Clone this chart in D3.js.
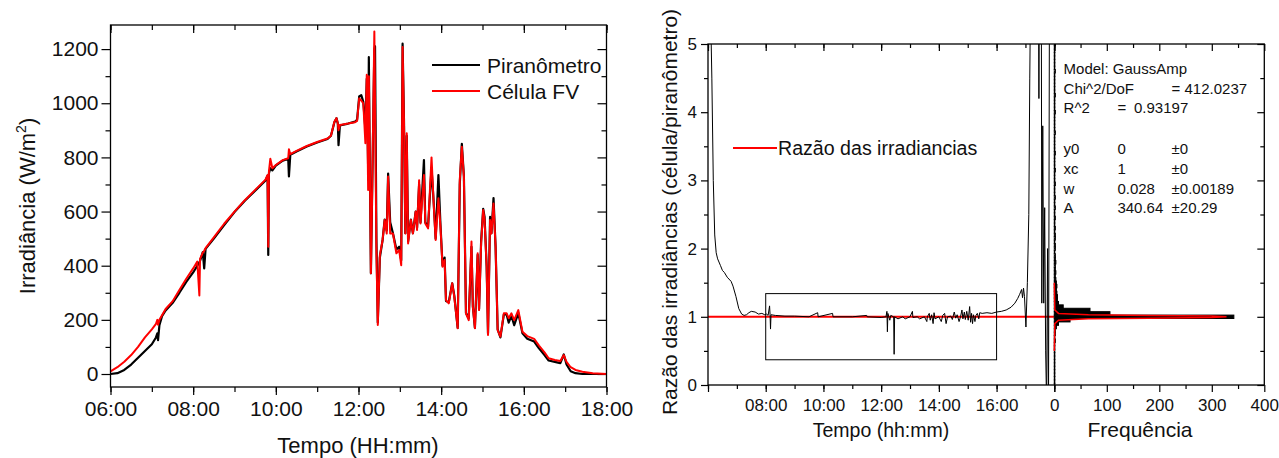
<!DOCTYPE html>
<html>
<head>
<meta charset="UTF-8">
<script src="https://d3js.org/d3.v7.min.js"></script>
<style>
  body { margin: 0; background: #fff; }
  svg text { font-family: "Liberation Sans", Arial, sans-serif; fill: #111; }
</style>
</head>
<body>
<div id="chart"></div>
<script>
// ---- left panel: irradiance over the day
var hora = ["06:00","06:10","06:20","06:30","06:40","06:50","07:00","07:06","07:08","07:09",
  "07:11","07:15","07:20","07:30","07:40","07:50","08:00","08:06","08:09","08:10",
  "08:14","08:16","08:18","08:30","08:45","09:00","09:15","09:30","09:45","09:48",
  "09:49","09:50","09:52","09:55","10:00","10:10","10:18","10:19","10:21","10:30",
  "10:45","11:00","11:15","11:20","11:25","11:28","11:30","11:31","11:33","11:45",
  "11:55","11:58","12:01","12:04","12:07","12:10","12:12","12:14","12:15","12:16",
  "12:18","12:20","12:23","12:24","12:26","12:28","12:31","12:35","12:38","12:41",
  "12:43","12:46","12:50","12:55","12:59","13:02","13:04","13:06","13:08","13:10",
  "13:12","13:16","13:19","13:23","13:25","13:28","13:30","13:35","13:37","13:41",
  "13:46","13:49","13:52","13:56","13:59","14:02","14:05","14:07","14:11","14:16",
  "14:19","14:24","14:27","14:30","14:33","14:36","14:40","14:44","14:46","14:49",
  "14:53","14:55","14:58","15:01","15:03","15:06","15:08","15:11","15:13","15:16",
  "15:19","15:22","15:26","15:31","15:35","15:38","15:42","15:46","15:52","15:58",
  "16:05","16:15","16:22","16:30","16:36","16:45","16:53","16:58","17:02","17:08",
  "17:15","17:25","17:40","18:00"];
var piranometro = [0,3,15,35,60,85,110,135,150,125,
  180,215,235,262,300,340,375,400,412,418,
  450,390,462,500,550,598,640,677,715,732,
  440,742,760,752,770,788,795,730,810,822,
  840,855,868,880,930,945,925,845,918,925,
  932,940,1025,1030,1005,905,1090,760,1170,880,
  372,700,1200,1210,500,190,430,495,570,530,
  740,560,520,460,470,420,1220,940,520,880,
  490,570,520,600,540,700,560,790,560,545,
  760,640,500,735,550,400,430,270,265,335,
  290,170,700,850,730,225,205,470,250,170,
  440,240,490,610,580,400,150,580,520,650,
  470,165,135,220,220,190,215,180,225,150,
  130,120,95,70,50,45,40,72,35,10,
  3,0,0,0];
var celula = [10,25,45,70,100,135,165,185,200,182,
  200,218,240,268,310,352,390,415,290,425,
  448,455,465,505,555,600,642,680,718,735,
  470,748,795,760,772,790,797,830,812,824,
  842,857,870,880,932,945,925,900,920,925,
  930,935,1018,1010,1000,852,1105,680,1100,900,
  372,700,1265,1000,450,181,439,495,569,519,
  729,519,519,446,458,402,1208,938,519,889,
  482,569,519,600,532,716,556,735,556,538,
  800,636,495,649,544,396,421,273,261,335,
  286,169,716,839,729,224,199,489,249,169,
  446,236,482,606,569,396,144,569,519,630,
  470,162,138,224,224,206,224,199,236,156,
  140,130,105,80,58,52,48,70,45,25,
  15,8,3,0];
var ticksHoraEsq = ["06:00","08:00","10:00","12:00","14:00","16:00","18:00"];
var ticksIrrad = [0,200,400,600,800,1000,1200];

// ---- right panel: cell/pyranometer ratio
var horaRazao = ["06:04","06:08","06:11","06:14","06:17","06:20","06:26","06:30","06:34","06:40",
  "06:48","06:52","06:58","07:04","07:10","07:15","07:20","07:25","07:30","07:38",
  "07:45","07:52","07:58","08:02","08:05","08:08","08:09","08:10","08:11","08:20",
  "08:40","09:00","09:30","09:48","09:49","10:19","10:20","11:00","11:30","11:31",
  "12:00","12:10","12:12","12:13","12:14","12:18","12:20","12:26","12:27","12:28",
  "12:35","12:45","12:50","13:00","13:05","13:06","13:15","13:20","13:30","13:35",
  "13:36","13:40","13:42","13:45","13:48","13:50","13:52","14:00","14:05","14:08",
  "14:12","14:15","14:18","14:25","14:28","14:32","14:35","14:38","14:42","14:45",
  "14:48","14:50","14:53","14:55","14:58","15:01","15:04","15:06","15:08","15:10",
  "15:12","15:15","15:17","15:20","15:23","15:25","15:30","15:40","15:50","16:00",
  "16:10","16:20","16:30","16:38","16:44","16:48","16:52","16:54","16:56","16:58",
  "17:01","17:04","17:07","17:09","17:11","17:27","17:28","17:29","17:33","17:34",
  "17:36","17:38","17:40","17:42","17:44","17:46","17:48","17:50"];
var razao = [6,4.5,3,2.2,1.94,1.85,1.75,1.68,1.65,1.58,
  1.52,1.45,1.3,1.12,1.04,1.02,1.03,1.06,1.08,1.07,
  1.04,1.05,1.03,1.04,1.02,1.16,1.04,0.82,1.03,1.02,
  1.01,1.01,1.0,1.06,1.0,1.05,1.0,1.0,1.02,1.0,
  0.99,1.0,1.08,0.78,1.05,0.95,1.02,1.0,0.45,1.0,
  0.97,1.0,0.97,1.0,1.08,0.99,1.0,0.97,1.0,0.93,
  1.0,1.05,0.95,1.03,0.9,1.06,0.97,1.0,0.93,1.02,
  1.05,0.9,1.0,1.01,0.96,1.07,0.98,1.03,0.93,1.0,
  1.1,0.97,1.07,0.96,1.08,0.95,1.15,0.92,1.05,0.9,
  1.03,0.93,1.02,1.05,0.97,1.06,1.05,1.06,1.05,1.07,
  1.08,1.1,1.14,1.2,1.27,1.33,1.4,1.28,1.42,1.3,
  0.85,1.5,2.5,4.5,6,6,4.2,6,6,1.2,
  3.8,1.2,2.6,0.5,-0.3,2,-0.3,6];
var ticksHoraDir = ["06:00","08:00","10:00","12:00","14:00","16:00","18:00"];
var ticksRazao = [0,1,2,3,4,5];

// histogram of the ratio, bins of 0.05 centred on 0, 0.05 ... 5.00
var larguraBin = 0.05;
var frequencia = [1,1,1,1,1,1,1,1,1,1,1,1,1,2,1,2,
  2,4,8,30,342,106,68,17,8,6,6,5,4,5,4,
  3,2,3,2,2,3,2,2,1,2, 2,1,2,2,1,2,1,1,2,1,
  1,2,1,1,2,1,1,1,2,1, 1,1,2,1,1,1,1,2,1,1,
  1,1,1,2,1,1,1,1,1,2, 1,1,1,1,2,1,1,1,1,1,
  1,2,1,1,1,1,1,1,1,2];
// GaussAmp fit
var ajusteRazao = [0.5,0.9,0.95,0.97,0.98,0.99,1.0,1.01,1.02,1.03,1.05,1.1,1.5];
var ajusteFreq = [0,1,8,65,180,300,328,300,180,65,8,1,0];
var ticksFreq = [0,100,200,300,400];

var estatLinhas = [
  ["Model: GaussAmp", "", "", ""],
  ["Chi^2/DoF", "", "", "= 412.0237"],
  ["R^2", "=", "0.93197", ""],
  ["", "", "", ""],
  ["y0", "0", "", "\u00b10"],
  ["xc", "1", "", "\u00b10"],
  ["w", "0.028", "", "\u00b10.00189"],
  ["A", "340.64", "", "\u00b120.29"]
];

var parseHora = d3.timeParse("%H:%M");
var fmtHora = d3.timeFormat("%H:%M");

var svg = d3.select("#chart").append("svg")
  .attr("width", 1279)
  .attr("height", 458);

function limpa(g, fs) {
  g.select(".domain").remove();
  g.selectAll("line").attr("stroke", "#000").attr("stroke-width", 1.2);
  g.selectAll("text").attr("font-size", fs).attr("fill", "#111")
    .style("font-family", "'Liberation Sans', Arial, sans-serif");
}

function horasCheias(a, b) {
  var out = [];
  for (var h = a; h <= b; h++) out.push(parseHora((h < 10 ? "0" : "") + h + ":00"));
  return out;
}

// ================= LEFT PANEL =================
var x = d3.scaleTime()
  .domain([parseHora("06:00"), parseHora("18:00")])
  .range([110.5, 606.5]);
var y = d3.scaleLinear()
  .domain([-48, 1289])
  .range([387, 25]);

var esq = svg.append("g");
esq.append("clipPath").attr("id", "clipEsq")
  .append("rect").attr("x", 110.5).attr("y", 25).attr("width", 496).attr("height", 362);

var maiorEsq = ticksHoraEsq.map(parseHora);
var menorEsq = horasCheias(6, 18);

esq.append("g").attr("transform", "translate(0,387)")
  .call(d3.axisBottom(x).tickValues(menorEsq).tickSize(5).tickFormat(""))
  .call(limpa, 21);
esq.append("g").attr("transform", "translate(0,387)")
  .call(d3.axisBottom(x).tickValues(maiorEsq).tickSize(8).tickPadding(6).tickFormat(fmtHora))
  .call(limpa, 21);
esq.append("g").attr("transform", "translate(0,25)")
  .call(d3.axisBottom(x).tickValues(menorEsq).tickSize(5).tickFormat(""))
  .call(limpa, 21);
esq.append("g").attr("transform", "translate(0,25)")
  .call(d3.axisBottom(x).tickValues(maiorEsq).tickSize(8).tickFormat(""))
  .call(limpa, 21);

var menorIrr = d3.range(100, 1300, 200);
esq.append("g").attr("transform", "translate(110.5,0)")
  .call(d3.axisLeft(y).tickValues(menorIrr).tickSize(5).tickFormat(""))
  .call(limpa, 21);
esq.append("g").attr("transform", "translate(110.5,0)")
  .call(d3.axisLeft(y).tickValues(ticksIrrad).tickSize(9).tickPadding(3).tickFormat(d3.format("d")))
  .call(limpa, 21);
esq.append("g").attr("transform", "translate(606.5,0)")
  .call(d3.axisLeft(y).tickValues(menorIrr).tickSize(5).tickFormat(""))
  .call(limpa, 21);
esq.append("g").attr("transform", "translate(606.5,0)")
  .call(d3.axisLeft(y).tickValues(ticksIrrad).tickSize(9).tickFormat(""))
  .call(limpa, 21);

var linhaEsq = function(vals) {
  return d3.line()
    .x(function(d, i) { return x(parseHora(hora[i])); })
    .y(function(d) { return y(d); })(vals);
};
var dados = esq.append("g").attr("clip-path", "url(#clipEsq)");
dados.append("path").attr("d", linhaEsq(piranometro))
  .attr("fill", "none").attr("stroke", "#000").attr("stroke-width", 2.2)
  .attr("stroke-linejoin", "round");
dados.append("path").attr("d", linhaEsq(celula))
  .attr("fill", "none").attr("stroke", "#f00").attr("stroke-width", 2)
  .attr("stroke-linejoin", "round");

esq.append("rect").attr("x", 110.5).attr("y", 25).attr("width", 496).attr("height", 362)
  .attr("fill", "none").attr("stroke", "#000").attr("stroke-width", 1.3);

// legend
var legEsq = [["Piran\u00f4metro", "#000", 65], ["C\u00e9lula FV", "#f00", 91]];
legEsq.forEach(function(l) {
  esq.append("line").attr("x1", 432).attr("x2", 480).attr("y1", l[2]).attr("y2", l[2])
    .attr("stroke", l[1]).attr("stroke-width", 2.2);
  esq.append("text").attr("x", 487).attr("y", l[2] + 7.5).attr("font-size", 21).text(l[0]);
});

// axis titles
var tY = esq.append("text").attr("transform", "translate(35,206) rotate(-90)")
  .attr("text-anchor", "middle").attr("font-size", 22);
tY.append("tspan").text("Irradi\u00e2ncia (W/m");
tY.append("tspan").attr("font-size", 14).attr("dy", -9).text("2");
tY.append("tspan").attr("dy", 9).text(")");
esq.append("text").attr("x", 358).attr("y", 453).attr("text-anchor", "middle")
  .attr("font-size", 22).text("Tempo (HH:mm)");

// ================= RIGHT PANEL =================
var xr = d3.scaleTime()
  .domain([parseHora("06:00"), parseHora("18:00")])
  .range([708, 1054.3]);
var yr = d3.scaleLinear().domain([0, 5]).range([385, 44]);
var xf = d3.scaleLinear().domain([0, 400]).range([1054.3, 1264.3]);

var dir = svg.append("g");
dir.append("clipPath").attr("id", "clipTempo")
  .append("rect").attr("x", 708).attr("y", 44).attr("width", 346.3).attr("height", 341);
dir.append("clipPath").attr("id", "clipDir")
  .append("rect").attr("x", 708).attr("y", 44).attr("width", 556.3).attr("height", 341);

var maiorDir = ticksHoraDir.map(parseHora);
var menorDir = horasCheias(6, 18);
var fmtDir = function(d) {
  var s = fmtHora(d);
  return (s == "06:00" || s == "18:00") ? "" : s;
};

[385, 44].forEach(function(py) {
  var base = py == 385;
  dir.append("g").attr("transform", "translate(0," + py + ")")
    .call(d3.axisBottom(xr).tickValues(menorDir).tickSize(4).tickFormat(""))
    .call(limpa, 17);
  dir.append("g").attr("transform", "translate(0," + py + ")")
    .call(d3.axisBottom(xr).tickValues(maiorDir).tickSize(7).tickPadding(7)
      .tickFormat(base ? fmtDir : ""))
    .call(limpa, 17);
  dir.append("g").attr("transform", "translate(0," + py + ")")
    .call(d3.axisBottom(xf).tickValues(d3.range(50, 400, 100)).tickSize(4).tickFormat(""))
    .call(limpa, 17);
  dir.append("g").attr("transform", "translate(0," + py + ")")
    .call(d3.axisBottom(xf).tickValues(ticksFreq).tickSize(7).tickPadding(7)
      .tickFormat(base ? d3.format("d") : ""))
    .call(limpa, 17);
});

var menorRaz = d3.range(0.5, 5, 1);
dir.append("g").attr("transform", "translate(708,0)")
  .call(d3.axisLeft(yr).tickValues(menorRaz).tickSize(4).tickFormat(""))
  .call(limpa, 17);
dir.append("g").attr("transform", "translate(708,0)")
  .call(d3.axisLeft(yr).tickValues(ticksRazao).tickSize(7).tickPadding(4).tickFormat(d3.format("d")))
  .call(limpa, 17);
dir.append("g").attr("transform", "translate(1264.3,0)")
  .call(d3.axisLeft(yr).tickValues(menorRaz).tickSize(4).tickFormat(""))
  .call(limpa, 17);
dir.append("g").attr("transform", "translate(1264.3,0)")
  .call(d3.axisLeft(yr).tickValues(ticksRazao).tickSize(7).tickFormat(""))
  .call(limpa, 17);

// reference line at ratio 1
dir.append("line").attr("x1", xr(parseHora("06:00"))).attr("x2", xr(parseHora("18:00")))
  .attr("y1", yr(1)).attr("y2", yr(1)).attr("stroke", "#f00").attr("stroke-width", 2);

// ratio time series
var linhaRazao = d3.line()
  .x(function(d, i) { return xr(parseHora(horaRazao[i])); })
  .y(function(d) { return yr(d); });
dir.append("g").attr("clip-path", "url(#clipTempo)")
  .append("path").attr("d", linhaRazao(razao))
  .attr("fill", "none").attr("stroke", "#000").attr("stroke-width", 1);

// histogram bars
var hist = dir.append("g").attr("clip-path", "url(#clipDir)");
hist.selectAll("rect").data(frequencia).enter().append("rect")
  .attr("x", xf(0))
  .attr("y", function(d, i) { return yr(i * larguraBin + larguraBin / 2); })
  .attr("width", function(d) { return xf(d) - xf(0); })
  .attr("height", function(d, i) { return yr(i * larguraBin - larguraBin / 2) - yr(i * larguraBin + larguraBin / 2); })
  .attr("fill", "#000").attr("stroke", "#000").attr("stroke-width", 1);

// fit
hist.append("path")
  .attr("d", d3.line()
    .x(function(d) { return xf(d); })
    .y(function(d, i) { return yr(ajusteRazao[i]); })(ajusteFreq))
  .attr("fill", "none").attr("stroke", "#f00").attr("stroke-width", 1.5);

// zoom box 08:00-16:00
dir.append("rect")
  .attr("x", xr(parseHora("08:00"))).attr("y", yr(1.34))
  .attr("width", xr(parseHora("16:00")) - xr(parseHora("08:00")))
  .attr("height", yr(0.37) - yr(1.34))
  .attr("fill", "none").attr("stroke", "#000").attr("stroke-width", 1);

dir.append("rect").attr("x", 708).attr("y", 44).attr("width", 556.3).attr("height", 341)
  .attr("fill", "none").attr("stroke", "#000").attr("stroke-width", 1.3);

// legend
dir.append("line").attr("x1", 733).attr("x2", 777).attr("y1", 148).attr("y2", 148)
  .attr("stroke", "#f00").attr("stroke-width", 2);
dir.append("text").attr("x", 778).attr("y", 155).attr("font-size", 19.6)
  .text("Raz\u00e3o das irradiancias");

// fit statistics
var colX = [1063.6, 1117.4, 1134, 1171.6];
var linY = [73.5, 93.5, 112.5, 133, 153.5, 173.5, 193.5, 212.5];
estatLinhas.forEach(function(r, i) {
  r.forEach(function(s, j) {
    if (s == "") return;
    dir.append("text").attr("x", colX[j]).attr("y", linY[i])
      .attr("font-size", 15).text(s);
  });
});

// axis titles
dir.append("text").attr("transform", "translate(677,212) rotate(-90)")
  .attr("text-anchor", "middle").attr("font-size", 21)
  .text("Raz\u00e3o das irradi\u00e2ncias (c\u00e9lula/piran\u00f4metro)");
dir.append("text").attr("x", 881).attr("y", 437).attr("text-anchor", "middle")
  .attr("font-size", 19.5).text("Tempo (hh:mm)");
dir.append("text").attr("x", 1140).attr("y", 437).attr("text-anchor", "middle")
  .attr("font-size", 21).text("Frequ\u00eancia");
</script>
</body>
</html>
